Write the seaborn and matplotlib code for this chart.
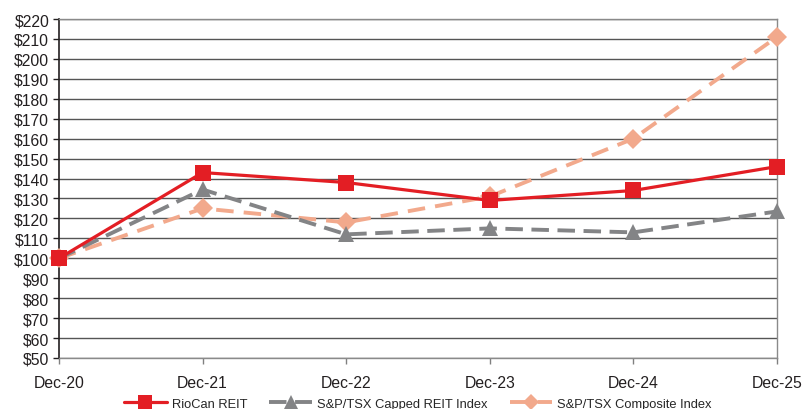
import numpy as np
import pandas as pd
import matplotlib
matplotlib.use("Agg")
import matplotlib.pyplot as plt
import seaborn as sns

categories = ["Dec-20", "Dec-21", "Dec-22", "Dec-23", "Dec-24", "Dec-25"]
riocan = [100, 143, 138, 129, 134, 146]
reit_index = [100, 134.5, 112, 115, 113, 123.5]
composite = [100, 125, 118, 131, 160, 211]
series_names = ["RioCan REIT", "S&P/TSX Capped REIT Index", "S&P/TSX Composite Index"]
y_ticks = list(range(50, 221, 10))

sns.set_theme(style="white")
plt.rcParams["font.family"] = ["Liberation Sans", "DejaVu Sans"]

df = pd.DataFrame({
    "date": categories * 3,
    "value": riocan + reit_index + composite,
    "series": [series_names[0]] * 6 + [series_names[1]] * 6 + [series_names[2]] * 6,
})
df["pos"] = df["date"].map({c: i for i, c in enumerate(categories)})

colors = {series_names[0]: "#E31E24", series_names[1]: "#838486", series_names[2]: "#F2A98C"}
markers = {series_names[0]: "s", series_names[1]: "^", series_names[2]: "D"}
dashes = {series_names[0]: "", series_names[1]: (4.5, 2.2), series_names[2]: (4.5, 2.6)}
lws = {series_names[0]: 2.3, series_names[1]: 2.8, series_names[2]: 2.8}
msizes = {series_names[0]: 11.5, series_names[1]: 12, series_names[2]: 10}
zorders = {series_names[0]: 5, series_names[1]: 4, series_names[2]: 3}

fig = plt.figure(figsize=(8.04, 4.10), dpi=100)
ax = fig.add_axes([59 / 804, 1 - 359 / 410, (777 - 59) / 804, (359 - 20) / 410])

for name in series_names:
    sub = df[df["series"] == name]
    sns.lineplot(
        data=sub, x="pos", y="value", ax=ax, color=colors[name],
        marker=markers[name], markersize=msizes[name], markeredgewidth=0,
        linewidth=lws[name], label=name, zorder=zorders[name], sort=False,
    )
    ln = ax.lines[-1]
    ln.set_clip_on(False)
    if dashes[name]:
        ln.set_dashes(dashes[name])

ax.set_xlim(0, 5)
ax.set_ylim(50, 220)
ax.set_xticks(range(len(categories)))
ax.set_xticklabels(categories)
ax.set_yticks(y_ticks)
ax.set_yticklabels([f"${v}" for v in y_ticks])
ax.set_xlabel("")
ax.set_ylabel("")
ax.tick_params(axis="both", labelsize=11.3, colors="#231F20", length=4, width=1, direction="out",
               left=True, bottom=True, pad=3)
ax.tick_params(axis="x", pad=8, color="#808080")
ax.tick_params(axis="y", color="#231F20")

for y in y_ticks:
    ax.axhline(y, color="#555555", linewidth=1.0, zorder=1)

for s in ["top", "right", "bottom"]:
    ax.spines[s].set_color("#8a8a8a")
    ax.spines[s].set_linewidth(1.0)
ax.spines["left"].set_color("#231F20")
ax.spines["left"].set_linewidth(1.2)
for s in ax.spines.values():
    s.set_visible(True)

ax.legend(loc="center", bbox_to_anchor=(0.5, -0.135), ncol=3, frameon=False,
          fontsize=9.3, handlelength=3.3, columnspacing=1.7, handletextpad=0.4,
          borderaxespad=0, markerscale=0.85)

fig.savefig("out.png", dpi=100)
